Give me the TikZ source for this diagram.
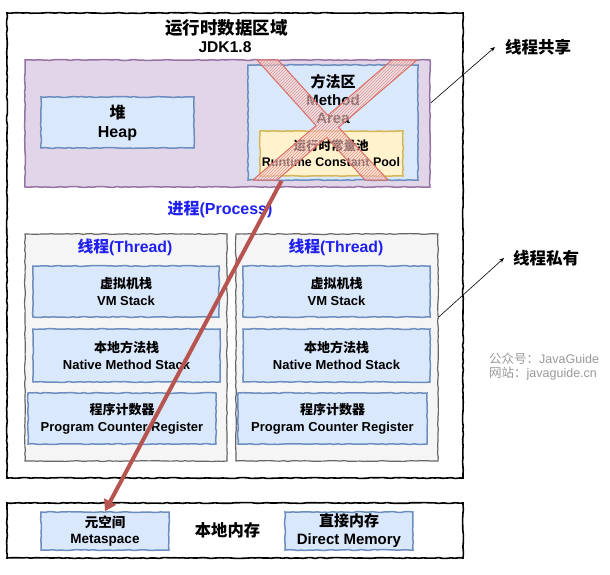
\documentclass[tikz,border=0pt]{standalone}
\usepackage{fontspec}
\setmainfont{Liberation Sans}
\newfontfamily\cjk{Noto Sans CJK SC}
\usetikzlibrary{arrows.meta,patterns,calc,decorations.pathmorphing}
\definecolor{purpfill}{HTML}{E1D5E7}
\definecolor{purpline}{HTML}{9673A6}
\definecolor{bluefill}{HTML}{DAE8FC}
\definecolor{blueline}{HTML}{6C8EBF}
\definecolor{yelfill}{HTML}{FFF2CC}
\definecolor{yelline}{HTML}{D6B656}
\definecolor{grayfill}{HTML}{F5F5F5}
\definecolor{grayline}{HTML}{666666}
\definecolor{arrowred}{HTML}{B85450}
\definecolor{xred}{HTML}{DC6E64}
\definecolor{procblue}{HTML}{1F1FF0}
\newcommand\zh[1]{{\cjk #1}}
\newcommand\bx[7]{\node[#2, minimum width={#5-#3}, minimum height={#6-#4}] (#1) at ({(#3+#5)/2},{(#4+#6)/2}) {#7};}
\tikzset{
  sketch/.style={decorate, decoration={random steps, segment length=4pt, amplitude=0.45pt}},
  outerbox/.style={sketch, draw=black, line width=1.6pt, fill=white, inner sep=0pt},
  purpbox/.style={sketch, draw=purpline, line width=1.5pt, fill=purpfill, inner sep=0pt},
  bluebox/.style={sketch, draw=blueline, line width=1.5pt, fill=bluefill, inner sep=0pt, align=center, font=\bfseries\fontsize{13}{17}\selectfont},
  yelbox/.style={sketch, draw=yelline, line width=1.5pt, fill=yelfill, inner sep=0pt},
  threadbox/.style={sketch, draw=grayline, line width=1.2pt, fill=grayfill, inner sep=0pt},
  txt/.style={inner sep=0pt, align=center, font=\bfseries\fontsize{13}{17}\selectfont},
  bluetxt/.style={inner sep=0pt, text=procblue, font=\bfseries\fontsize{15.8}{18}\selectfont},
  sidelbl/.style={anchor=west, inner sep=0pt, font=\bfseries\fontsize{16.5}{18}\selectfont},
  sidearrow/.style={-{Stealth[length=5pt,width=4pt]}, line width=0.6pt, black},
  wm/.style={anchor=west, inner sep=0pt, text=black!40, font=\fontsize{12.5}{14}\selectfont},
}
\begin{document}
\begin{tikzpicture}[x=1pt,y=-1pt]
\pgfmathsetseed{7}
\useasboundingbox (0,0) rectangle (610,575);
\fill[white] (0,0) rectangle (610,575);

% outer runtime data area
\bx{rt}{outerbox}{7}{13}{463}{478}{}
\node[txt, font=\bfseries\fontsize{17.5}{20}\selectfont] (rttitle) at (226.5,28) {\zh{运行时数据区域}};
\node[txt, font=\bfseries\fontsize{15.6}{18}\selectfont] (jdk) at (225,47) {JDK1.8};

% shared area
\bx{shared}{purpbox}{25}{60}{430}{187}{}
\bx{heap}{bluebox, font=\bfseries\fontsize{16}{19}\selectfont}{41}{97}{194}{148}{\zh{堆}\\Heap}
\bx{ma}{bluebox}{248}{65}{418}{180}{}
\node[txt, font=\bfseries\fontsize{15}{18}\selectfont] (matxt) at (333,99) {\zh{方法区}\\Method\\Area};
\bx{rcp}{yelbox}{260}{131}{403}{176}{}
\node[txt, font=\bfseries\fontsize{12.5}{16}\selectfont] (rcptxt) at (331,153) {\zh{运行时常量池}\\Runtime Constant Pool};

% red X over method area
\path[fill=xred!25, fill opacity=0.5]
  (257,60) -- (278,60) -- (327.9,115.4) -- (392,60) -- (417,60) -- (338.6,127.3)
  -- (388,180) -- (365,180) -- (326.7,137.4) -- (277,180) -- (253,180) -- (316,125.6) -- cycle;
\path[pattern=north east lines, pattern color=xred!75]
  (257,60) -- (278,60) -- (327.9,115.4) -- (392,60) -- (417,60) -- (338.6,127.3)
  -- (388,180) -- (365,180) -- (326.7,137.4) -- (277,180) -- (253,180) -- (316,125.6) -- cycle;
\draw[xred, line width=1pt, line join=round]
  (257,60) -- (278,60) -- (327.9,115.4) -- (392,60) -- (417,60) -- (338.6,127.3)
  -- (388,180) -- (365,180) -- (326.7,137.4) -- (277,180) -- (253,180) -- (316,125.6) -- cycle;

% process label
\node[bluetxt, font=\bfseries\fontsize{16}{18}\selectfont] (proc) at (220,209) {\zh{进程}(Process)};

% threads
\bx{th1}{threadbox}{25}{234}{227}{461}{}
\bx{th2}{threadbox}{236}{234}{438}{461}{}
\node[bluetxt] (th1lbl) at (125,247) {\zh{线程}(Thread)};
\node[bluetxt] (th2lbl) at (336,247) {\zh{线程}(Thread)};

\bx{vm1}{bluebox}{33}{266}{219}{317}{\zh{虚拟机栈}\\VM Stack}
\bx{vm2}{bluebox}{243}{266}{430}{317}{\zh{虚拟机栈}\\VM Stack}
\bx{nm1}{bluebox}{33}{329}{220}{382}{\zh{本地方法栈}\\Native Method Stack}
\bx{nm2}{bluebox}{243}{329}{430}{382}{\zh{本地方法栈}\\Native Method Stack}
\bx{pc1}{bluebox}{28}{393}{216}{444}{\zh{程序计数器}\\Program Counter Register}
\bx{pc2}{bluebox}{238}{393}{427}{444}{\zh{程序计数器}\\Program Counter Register}

% native memory
\bx{native}{outerbox}{7}{503}{463}{558}{}
\bx{meta}{bluebox, font=\bfseries\fontsize{13.5}{16}\selectfont}{41}{512}{169}{550}{\zh{元空间}\\Metaspace}
\node[txt, font=\bfseries\fontsize{16.3}{18}\selectfont] (nmtxt) at (227.5,530) {\zh{本地内存}};
\bx{direct}{bluebox, font=\bfseries\fontsize{15}{18}\selectfont}{285}{512}{413}{550}{\zh{直接内存}\\Direct Memory}

% side labels
\node[sidelbl] (lshare) at (505,47) {\zh{线程共享}};
\node[sidelbl] (lpriv) at (513,258) {\zh{线程私有}};
\draw[sidearrow] ($(shared.north east)!0.34!(shared.south east)$) -- ([xshift=-10pt]lshare.west);
\draw[sidearrow] ($(th2.north east)!0.367!(th2.south east)$) -- ([xshift=-9pt]lpriv.west);

% watermark
\node[wm] (wm1) at (489,359) {\zh{公众号：}JavaGuide};
\node[wm] (wm2) at (489,374) {\zh{网站：}javaguide.cn};

% red arrow
\coordinate (arstart) at ($(ma.south west)!0.2!(ma.south east)$);
\coordinate (arend) at ($(meta.north west)!0.5!(meta.north east)$);
\draw[arrowred, line width=4pt, -{Triangle[length=11pt,width=13pt]}] (arstart) -- (arend);
\end{tikzpicture}
\end{document}
